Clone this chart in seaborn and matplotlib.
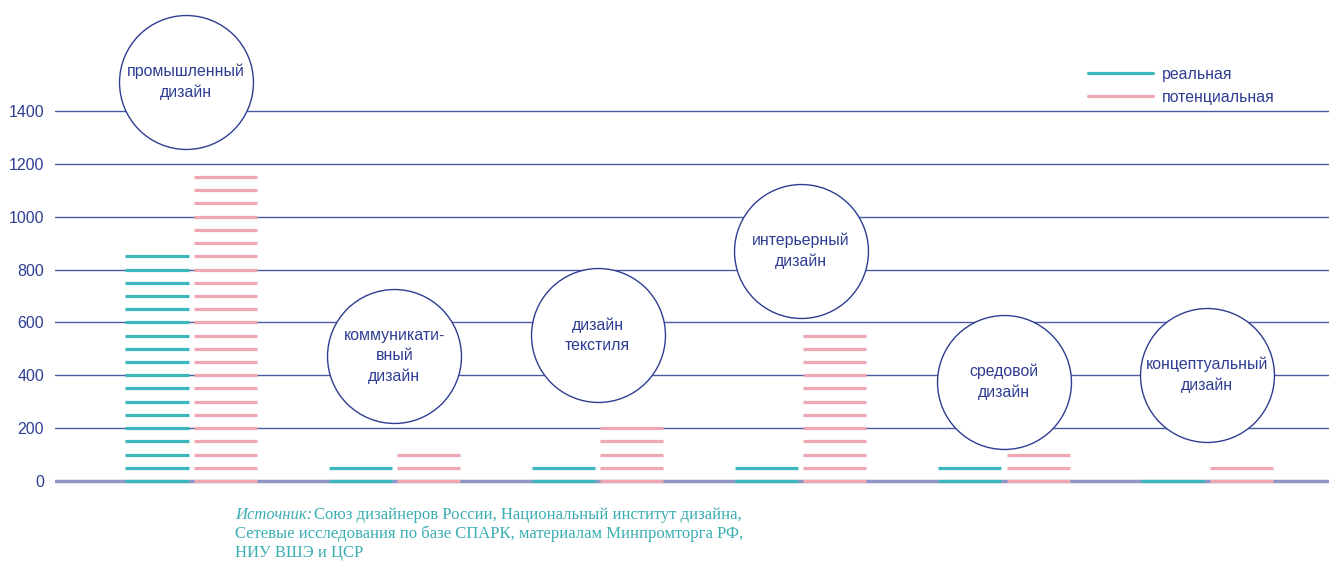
import pandas as pd
import seaborn as sns
import matplotlib.pyplot as plt
from matplotlib.lines import Line2D

# Data
categories = ['промышленный\nдизайн', 'коммуникати-\nвный\nдизайн', 'дизайн\nтекстиля',
              'интерьерный\nдизайн', 'средовой\nдизайн', 'концептуальный\nдизайн']
real = [850, 50, 50, 50, 50, 0]
potential = [1150, 100, 200, 550, 100, 50]
series = ['реальная', 'потенциальная']
step = 50
y_ticks = [0, 200, 400, 600, 800, 1000, 1200, 1400]
source_head = 'Источник:'
source_lines = ['Союз дизайнеров России, Национальный институт дизайна,',
                'Сетевые исследования по базе СПАРК, материалам Минпромторга РФ,',
                'НИУ ВШЭ и ЦСР']

# layout / styles
bubble_x = [-0.025, 0, 0, 0, 0, 0]
bubble_y = [1510, 473, 552, 870, 375, 401]
navy = '#2e3d92'
teal = '#3cb8bc'
pink = '#eea7b3'
src_color = '#3aaeb2'
W, H = 1329, 562

sns.set_style('white')
plt.rcParams['font.family'] = ['Liberation Sans', 'DejaVu Sans']

fig = plt.figure(figsize=(W / 100, H / 100), dpi=100)
ax = fig.add_axes([55 / W, (H - 495) / H, (W - 55) / W, 490 / H])

# one dash per 50 units, stacked up to the value
rows = []
for i, cat in enumerate(categories):
    for name, vals, off in [(series[0], real, -0.168), (series[1], potential, 0.168)]:
        for lvl in range(0, vals[i] + 1, step):
            rows.append({'x': i + off, 'level': lvl, 'series': name})
df = pd.DataFrame(rows)

for t in y_ticks[1:]:
    ax.axhline(t, color=navy, lw=1, alpha=0.85, zorder=1)
ax.axhline(0, color='#8d96c6', lw=2.5, zorder=1)

sns.scatterplot(data=df, x='x', y='level', hue='series',
                palette={series[0]: teal, series[1]: pink},
                marker='_', s=2060, linewidth=2.3, legend=False, ax=ax, zorder=3)

# bubbles with category names
bx = [i + d for i, d in enumerate(bubble_x)]
sns.scatterplot(x=bx, y=bubble_y, s=9300, color='white',
                edgecolor=navy, linewidth=1, ax=ax, zorder=5, clip_on=False)
for i, cat in enumerate(categories):
    ax.text(bx[i], bubble_y[i], cat, ha='center', va='center', color=navy,
            fontsize=11.4, linespacing=1.45, zorder=6)

ax.set_xlim(-0.67, 5.6)
ax.set_ylim(-53, 1801)
ax.set_yticks(y_ticks)
ax.set_yticklabels([str(t) for t in y_ticks])
ax.set_xticks([])
ax.set_xlabel('')
ax.set_ylabel('')
ax.tick_params(axis='y', length=0, pad=8, labelsize=11.5, labelcolor=navy)
for sp in ax.spines.values():
    sp.set_visible(False)

handles = [Line2D([0], [0], color=teal, lw=2.3), Line2D([0], [0], color=pink, lw=2.3)]
fig.legend(handles, series, loc='upper left', bbox_to_anchor=(1088 / W, 1 - 67 / H),
           frameon=False, fontsize=11.4, labelcolor=navy, handlelength=4.1,
           handletextpad=0.55, labelspacing=0.5, borderpad=0, borderaxespad=0)

# source note
fig.text(235 / W, 1 - 515 / H, source_head, family='Liberation Serif', style='italic',
         color=src_color, fontsize=12, va='center')
fig.text(314 / W, 1 - 515 / H, source_lines[0], family='Liberation Serif',
         color=src_color, fontsize=12, va='center')
for k, line in enumerate(source_lines[1:]):
    fig.text(235 / W, 1 - (534 + 19 * k) / H, line, family='Liberation Serif',
             color=src_color, fontsize=12, va='center')

fig.savefig('out.png', dpi=100)
